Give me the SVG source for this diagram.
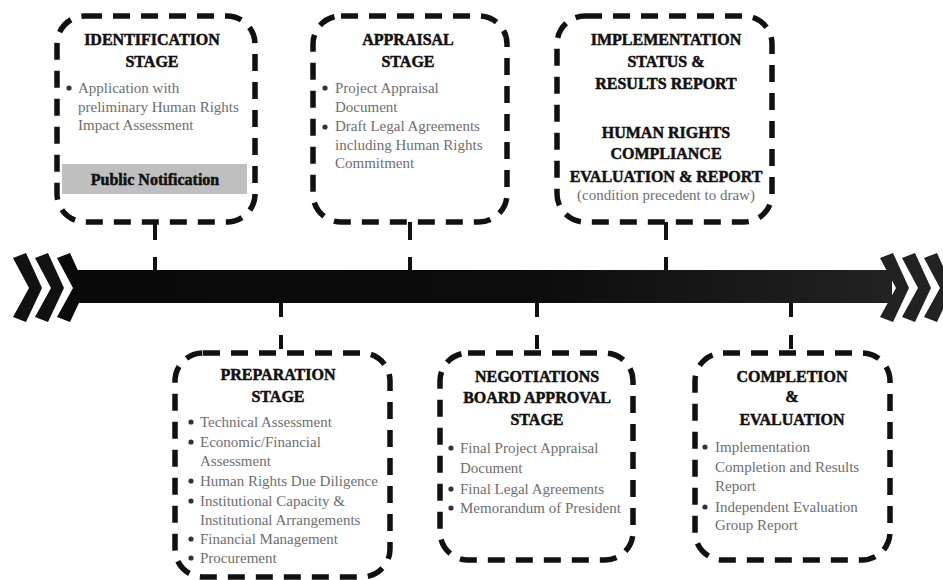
<svg xmlns="http://www.w3.org/2000/svg" width="943" height="580" viewBox="0 0 943 580">
<style>
.box{fill:none;stroke:#111;stroke-width:5.5;stroke-dasharray:17 11}
.t{font-family:"Liberation Serif","Times New Roman",serif;font-weight:bold;font-size:16px;fill:#111;stroke:#111;stroke-width:0.5;text-anchor:middle}
.b{font-family:"Liberation Serif","Times New Roman",serif;font-size:15px;fill:#6e6e6e}
.dot{fill:#333}
.con{stroke:#111;stroke-width:4;fill:none}
</style>
<defs>
<linearGradient id="bar" x1="0" y1="0" x2="1" y2="0">
<stop offset="0" stop-color="#0a0a0a"/>
<stop offset="0.55" stop-color="#0c0c0c"/>
<stop offset="1" stop-color="#222"/>
</linearGradient>
<path id="chev" d="M0,5 L13,0 L29,35 L13,69 L0,64 L16,35 Z"/>
</defs>

<g id="timeline">
<rect x="78" y="270" width="814" height="33" fill="url(#bar)"/>
<use href="#chev" x="13" y="253" fill="#111"/>
<use href="#chev" x="35" y="253" fill="#111"/>
<use href="#chev" x="57" y="253" fill="#0a0a0a"/>
<use href="#chev" x="880" y="253" fill="#222"/>
<use href="#chev" x="902" y="253" fill="#222"/>
<use href="#chev" x="924" y="253" fill="#222"/>
</g>

<g id="connectors">
<line class="con" x1="155" y1="222" x2="155" y2="270" stroke-dasharray="18 17"/>
<line class="con" x1="410" y1="222" x2="410" y2="270" stroke-dasharray="18 17"/>
<line class="con" x1="666" y1="222" x2="666" y2="270" stroke-dasharray="18 17"/>
<line class="con" x1="281" y1="303" x2="281" y2="353" stroke-dasharray="14 18"/>
<line class="con" x1="537" y1="303" x2="537" y2="353" stroke-dasharray="14 18"/>
<line class="con" x1="791" y1="303" x2="791" y2="353" stroke-dasharray="14 18"/>
</g>

<g id="identification">
<rect class="box" x="57" y="16" width="198" height="206" rx="28"/>
<text class="t" x="152" y="45">IDENTIFICATION</text>
<text class="t" x="152" y="67">STAGE</text>
<circle class="dot" cx="69" cy="88" r="2.6"/>
<text class="b" x="78" y="93">Application with</text>
<text class="b" x="78" y="112">preliminary Human Rights</text>
<text class="b" x="78" y="130">Impact Assessment</text>
<rect x="62" y="164" width="185" height="30" fill="#bfbfbf"/>
<text class="t" x="155" y="185">Public Notification</text>
</g>

<g id="appraisal">
<rect class="box" x="313" y="16" width="194" height="206" rx="28"/>
<text class="t" x="408" y="45">APPRAISAL</text>
<text class="t" x="408" y="67">STAGE</text>
<circle class="dot" cx="325" cy="88" r="2.6"/>
<text class="b" x="335" y="93">Project Appraisal</text>
<text class="b" x="335" y="112">Document</text>
<circle class="dot" cx="325" cy="127" r="2.6"/>
<text class="b" x="335" y="131">Draft Legal Agreements</text>
<text class="b" x="335" y="150">including Human Rights</text>
<text class="b" x="335" y="168">Commitment</text>
</g>

<g id="implementation">
<rect class="box" x="557" y="16" width="215" height="206" rx="28"/>
<text class="t" x="666" y="45">IMPLEMENTATION</text>
<text class="t" x="666" y="67">STATUS &amp;</text>
<text class="t" x="666" y="89">RESULTS REPORT</text>
<text class="t" x="666" y="138">HUMAN RIGHTS</text>
<text class="t" x="666" y="159">COMPLIANCE</text>
<text class="t" x="666" y="182">EVALUATION &amp; REPORT</text>
<text class="b" x="666" y="200" text-anchor="middle" fill="#555">(condition precedent to draw)</text>
</g>

<g id="preparation">
<rect class="box" x="175" y="353" width="215" height="224" rx="28"/>
<text class="t" x="278" y="380">PREPARATION</text>
<text class="t" x="278" y="402">STAGE</text>
<circle class="dot" cx="191" cy="422" r="2.6"/>
<text class="b" x="200" y="427">Technical Assessment</text>
<circle class="dot" cx="191" cy="442" r="2.6"/>
<text class="b" x="200" y="447">Economic/Financial</text>
<text class="b" x="200" y="466">Assessment</text>
<circle class="dot" cx="191" cy="481" r="2.6"/>
<text class="b" x="200" y="486">Human Rights Due Diligence</text>
<circle class="dot" cx="191" cy="501" r="2.6"/>
<text class="b" x="200" y="506">Institutional Capacity &amp;</text>
<text class="b" x="200" y="525">Institutional Arrangements</text>
<circle class="dot" cx="191" cy="539" r="2.6"/>
<text class="b" x="200" y="544">Financial Management</text>
<circle class="dot" cx="191" cy="558" r="2.6"/>
<text class="b" x="200" y="563">Procurement</text>
</g>

<g id="negotiations">
<rect class="box" x="440" y="353" width="193" height="207" rx="28"/>
<text class="t" x="537" y="382">NEGOTIATIONS</text>
<text class="t" x="537" y="403">BOARD APPROVAL</text>
<text class="t" x="537" y="425">STAGE</text>
<circle class="dot" cx="451" cy="448" r="2.6"/>
<text class="b" x="460" y="453">Final Project Appraisal</text>
<text class="b" x="460" y="473">Document</text>
<circle class="dot" cx="451" cy="489" r="2.6"/>
<text class="b" x="460" y="494">Final Legal Agreements</text>
<circle class="dot" cx="451" cy="508" r="2.6"/>
<text class="b" x="460" y="513">Memorandum of President</text>
</g>

<g id="completion">
<rect class="box" x="695" y="353" width="195" height="207" rx="28"/>
<text class="t" x="792" y="382">COMPLETION</text>
<text class="t" x="792" y="402">&amp;</text>
<text class="t" x="792" y="425">EVALUATION</text>
<circle class="dot" cx="705" cy="447" r="2.6"/>
<text class="b" x="715" y="452">Implementation</text>
<text class="b" x="715" y="472">Completion and Results</text>
<text class="b" x="715" y="491">Report</text>
<circle class="dot" cx="705" cy="507" r="2.6"/>
<text class="b" x="715" y="512">Independent Evaluation</text>
<text class="b" x="715" y="530">Group Report</text>
</g>
</svg>
